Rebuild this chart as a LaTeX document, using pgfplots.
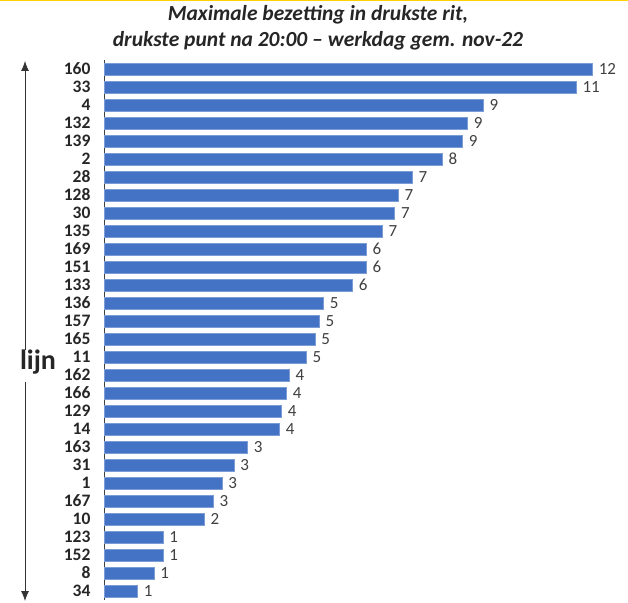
\documentclass[border=0pt]{standalone}
\usepackage{pgfplots}
\pgfplotsset{compat=1.18}
\usepackage{fontspec}
\setmainfont{Carlito}
\usetikzlibrary{arrows.meta}
\definecolor{barblue}{HTML}{4472C4}
\definecolor{txtgray}{HTML}{404040}
\definecolor{topyellow}{HTML}{FFD200}
\begin{document}
\begin{tikzpicture}
\path[use as bounding box] (0pt,0pt) rectangle (628pt,602pt);
\fill[topyellow] (0pt,600.5pt) rectangle (628pt,602pt);
\node[font=\fontsize{21.5}{24}\selectfont\bfseries\itshape, text=black!85] at (318pt,587pt) {Maximale bezetting in drukste rit,};
\node[font=\fontsize{21.5}{24}\selectfont\bfseries\itshape, text=black!85] at (318pt,561pt) {drukste punt na 20:00 -- werkdag gem. nov-22};
\draw[black!80, line width=0.8pt, -{Latex[length=10pt,width=8pt]}] (25pt,252pt) -- (25pt,541pt);
\draw[black!80, line width=0.8pt, -{Latex[length=10pt,width=8pt]}] (25pt,220pt) -- (25pt,1pt);
\node[font=\fontsize{28}{30}\selectfont\bfseries, text=black!85] at (38pt,240pt) {lijn};
\begin{axis}[
  at={(104pt,2pt)}, anchor=south west,
  scale only axis, width=519pt, height=540pt,
  xbar, bar width=12pt,
  xmin=0, xmax=12.5,
  ymin=-0.5, ymax=29.5, y dir=reverse,
  axis x line=none,
  axis y line*=left,
  y axis line style={black!75, line width=0.9pt, -},
  ytick={0,...,29},
  yticklabels={160,33,4,132,139,2,28,128,30,135,169,151,133,136,157,165,11,162,166,129,14,163,31,1,167,10,123,152,8,34},
  major tick length=0pt,
  yticklabel style={font=\fontsize{17.5}{20}\selectfont\bfseries, text=black!85, xshift=-10pt},
  nodes near coords,
  nodes near coords style={font=\fontsize{17}{20}\selectfont, text=txtgray, xshift=3pt, /pgf/number format/fixed, /pgf/number format/precision=0, /pgf/number format/assume math mode=true},
  clip=false,
]
\addplot[fill=barblue, draw=barblue!70!white, line width=0.4pt] coordinates {
(11.76,0) (11.37,1) (9.13,2) (8.75,3) (8.63,4) (8.14,5) (7.42,6) (7.08,7) (7.0,8) (6.70,9)
(6.31,10) (6.31,11) (5.98,12) (5.28,13) (5.18,14) (5.08,15) (4.87,16) (4.46,17) (4.39,18) (4.27,19)
(4.22,20) (3.45,21) (3.13,22) (2.84,23) (2.63,24) (2.41,25) (1.42,26) (1.42,27) (1.2,28) (0.8,29)
};
\end{axis}
\end{tikzpicture}
\end{document}
